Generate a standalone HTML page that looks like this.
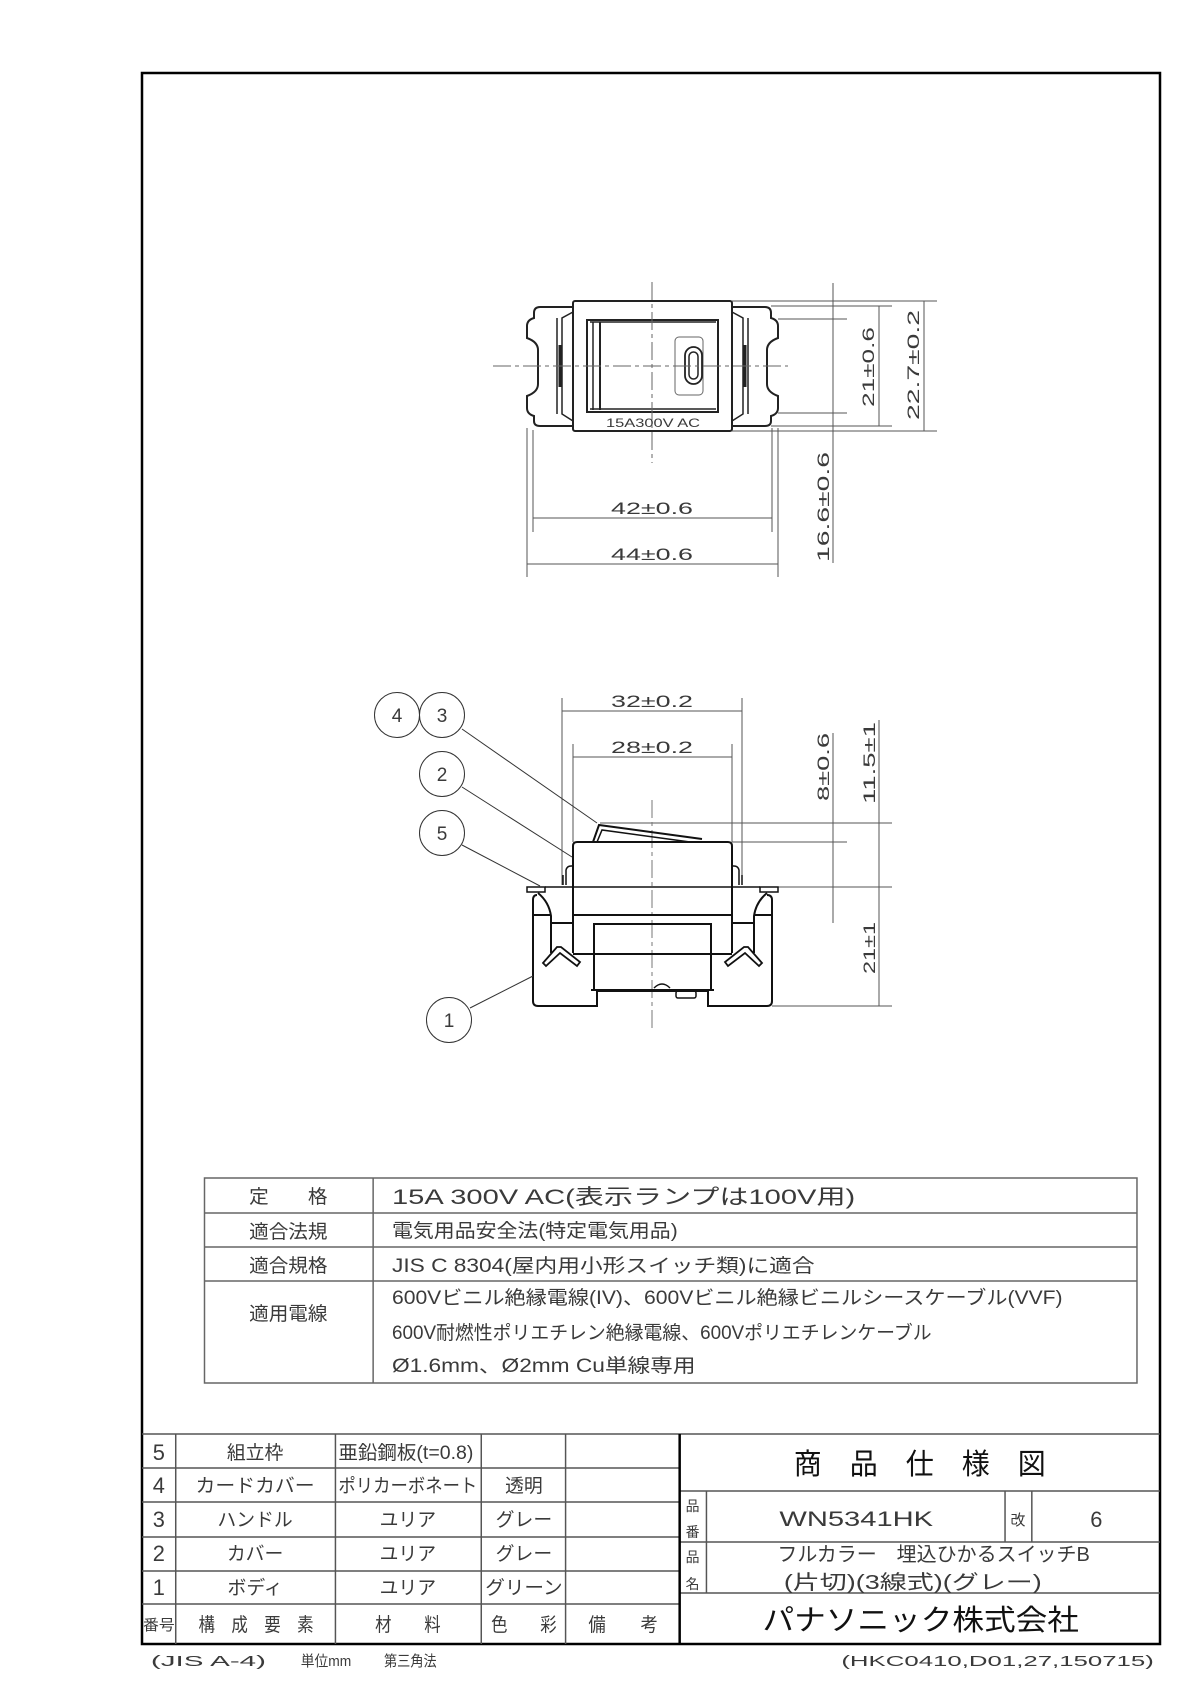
<!DOCTYPE html>
<html><head><meta charset="utf-8"><style>
html,body{margin:0;padding:0;background:#fff}
svg{display:block}
text{font-family:"Liberation Sans","Noto Sans CJK JP",sans-serif;fill:#3a3a3a}
</style></head><body>
<svg width="1190" height="1683" viewBox="0 0 1190 1683" xmlns="http://www.w3.org/2000/svg">
<!-- Frame -->
<rect x="142" y="73" width="1018" height="1571" fill="none" stroke="#000" stroke-width="2.5"/>

<!-- ===== TOP VIEW ===== -->
<g fill="none" stroke="#222" stroke-width="2">
  <path d="M573,307 L540,307 Q534,307 534,313 L534,318 Q527,320 527,326 L527,338 Q538,342 538,350 L538,384 Q538,392 527,396 L527,408 Q527,414 534,416 L534,421 Q534,426 540,426 L573,426"/>
  <path d="M732,307 L765,307 Q771,307 771,313 L771,318 Q778,320 778,326 L778,338 Q767,342 767,350 L767,384 Q767,392 778,396 L778,408 Q778,414 771,416 L771,421 Q771,426 765,426 L732,426"/>
  <path d="M573,312 L562,318 L562,414 L573,421 M557,318 L557,414" stroke-width="1.5"/>
  <path d="M732,312 L743,318 L743,414 L732,421 M748,318 L748,414" stroke-width="1.5"/>
  <line x1="560" y1="345" x2="560" y2="387" stroke-width="3"/>
  <line x1="745" y1="345" x2="745" y2="387" stroke-width="3"/>
  <rect x="573" y="301" width="159" height="130" rx="2"/>
  <rect x="587" y="320" width="131" height="92" stroke-width="2"/>
  <line x1="593" y1="322" x2="593" y2="410" stroke-width="1.5"/>
  <line x1="600" y1="322" x2="600" y2="410" stroke-width="2"/>
  <line x1="590" y1="322" x2="716" y2="322" stroke-width="1.5"/>
  <line x1="590" y1="409" x2="716" y2="409" stroke-width="1.5"/>
  <rect x="675" y="337" width="28" height="58" rx="4" stroke-width="1" stroke="#666"/>
  <rect x="685" y="347" width="17" height="37" rx="8.5" stroke-width="1.8"/>
  <rect x="689" y="352" width="9" height="27" rx="4.5" stroke-width="1.5"/>
</g>
<text x="653" y="427" font-size="12" text-anchor="middle" textLength="94" lengthAdjust="spacingAndGlyphs">15A300V AC</text>
<g stroke="#666" stroke-width="1" fill="none" stroke-dasharray="18,4,4,4">
  <line x1="652" y1="282" x2="652" y2="463"/>
  <line x1="493" y1="366" x2="788" y2="366"/>
</g>
<g stroke="#555" stroke-width="1" fill="none">
  <line x1="732" y1="301" x2="937" y2="301"/>
  <line x1="771" y1="306" x2="892" y2="306"/>
  <line x1="778" y1="319" x2="847" y2="319"/>
  <line x1="778" y1="413" x2="847" y2="413"/>
  <line x1="771" y1="426" x2="892" y2="426"/>
  <line x1="732" y1="431" x2="937" y2="431"/>
  <line x1="833" y1="283" x2="833" y2="563"/>
  <line x1="879" y1="306" x2="879" y2="426"/>
  <line x1="924" y1="301" x2="924" y2="431"/>
  <line x1="533" y1="430" x2="533" y2="532"/>
  <line x1="772" y1="428" x2="772" y2="532"/>
  <line x1="527" y1="428" x2="527" y2="577"/>
  <line x1="778" y1="428" x2="778" y2="577"/>
  <line x1="533" y1="518" x2="772" y2="518"/>
  <line x1="527" y1="564" x2="778" y2="564"/>
</g>
<g font-size="17">
  <text x="652" y="514" text-anchor="middle" textLength="82" lengthAdjust="spacingAndGlyphs">42±0.6</text>
  <text x="652" y="560" text-anchor="middle" textLength="82" lengthAdjust="spacingAndGlyphs">44±0.6</text>
  <text transform="translate(874,367) rotate(-90)" text-anchor="middle" textLength="80" lengthAdjust="spacingAndGlyphs">21±0.6</text>
  <text transform="translate(919,365) rotate(-90)" text-anchor="middle" textLength="110" lengthAdjust="spacingAndGlyphs">22.7±0.2</text>
  <text transform="translate(829,507) rotate(-90)" text-anchor="middle" textLength="110" lengthAdjust="spacingAndGlyphs">16.6±0.6</text>
</g>

<!-- ===== SIDE VIEW ===== -->
<g stroke="#555" stroke-width="1" fill="none">
  <line x1="562" y1="698" x2="562" y2="885"/>
  <line x1="742" y1="698" x2="742" y2="885"/>
  <line x1="562" y1="711" x2="742" y2="711"/>
  <line x1="573" y1="744" x2="573" y2="842"/>
  <line x1="732" y1="744" x2="732" y2="842"/>
  <line x1="573" y1="757" x2="732" y2="757"/>
  <line x1="600" y1="823" x2="892" y2="823"/>
  <line x1="732" y1="842" x2="847" y2="842"/>
  <line x1="778" y1="887" x2="892" y2="887"/>
  <line x1="772" y1="1006" x2="892" y2="1006"/>
  <line x1="833" y1="733" x2="833" y2="923"/>
  <line x1="879" y1="720" x2="879" y2="1006"/>
</g>
<g stroke="#777" stroke-width="1" fill="none" stroke-dasharray="18,4,4,4">
  <line x1="652" y1="800" x2="652" y2="1030"/>
</g>
<g font-size="17">
  <text x="652" y="707" text-anchor="middle" textLength="82" lengthAdjust="spacingAndGlyphs">32±0.2</text>
  <text x="652" y="753" text-anchor="middle" textLength="82" lengthAdjust="spacingAndGlyphs">28±0.2</text>
  <text transform="translate(829,767) rotate(-90)" text-anchor="middle" textLength="68" lengthAdjust="spacingAndGlyphs">8±0.6</text>
  <text transform="translate(875,763) rotate(-90)" text-anchor="middle" textLength="82" lengthAdjust="spacingAndGlyphs">11.5±1</text>
  <text transform="translate(875,948) rotate(-90)" text-anchor="middle" textLength="52" lengthAdjust="spacingAndGlyphs">21±1</text>
</g>
<g fill="none" stroke="#111" stroke-width="2">
  <path d="M593,842 L599,825 L702,839"/>
  <path d="M597,842 L602,830 L690,842" stroke-width="1.5"/>
  <path d="M573,953 L573,846 Q573,842 577,842 L728,842 Q732,842 732,846 L732,953"/>
  <line x1="573" y1="915" x2="732" y2="915"/>
  <line x1="573" y1="954" x2="732" y2="954"/>
  <path d="M594,990 L594,924 L711,924 L711,990"/>
  <line x1="591" y1="990" x2="714" y2="990"/>
  <rect x="676" y="991" width="20" height="7" rx="2" stroke-width="1.5"/>
  <path d="M654,988 Q662,980 670,988" stroke-width="1.5"/>
  <path d="M537,895 Q533,895 533,900 L533,1001 Q533,1006 538,1006 L597,1006 L597,991 L708,991 L708,1006 L767,1006 Q772,1006 772,1001 L772,900 Q772,895 767,895"/>
  <rect x="527" y="887" width="18" height="5" stroke-width="1.5"/>
  <rect x="760" y="887" width="18" height="5" stroke-width="1.5"/>
  <line x1="545" y1="887" x2="760" y2="887" stroke-width="1.5"/>
  <path d="M538,893 Q549,902 551,916 L551,953"/>
  <path d="M533,915 L551,915 M551,923 L573,923"/>
  <path d="M566,885 L566,870 Q567,866 571,866 L573,866" stroke-width="1.5"/>
  <path d="M563,885 L563,875" stroke-width="1.5"/>
  <path d="M543,963 L557,947 L561,947 L580,962 L577,966 L560,953 L546,966 Z" stroke-width="1.8"/>
  <path d="M767,893 Q756,902 754,916 L754,953"/>
  <path d="M772,915 L754,915 M754,923 L732,923"/>
  <path d="M739,885 L739,870 Q738,866 734,866 L732,866" stroke-width="1.5"/>
  <path d="M742,885 L742,875" stroke-width="1.5"/>
  <path d="M762,963 L748,947 L744,947 L725,962 L728,966 L745,953 L759,966 Z" stroke-width="1.8"/>
</g>
<g fill="none" stroke="#333" stroke-width="1">
  <circle cx="397" cy="715" r="22.5"/>
  <circle cx="442" cy="715" r="22.5"/>
  <circle cx="442" cy="774" r="22.5"/>
  <circle cx="442" cy="833" r="22.5"/>
  <circle cx="449" cy="1020" r="22.5"/>
  <line x1="462" y1="729" x2="597" y2="823"/>
  <line x1="462" y1="787" x2="572" y2="857"/>
  <line x1="462" y1="845" x2="540" y2="886"/>
  <line x1="470" y1="1008" x2="533" y2="976"/>
</g>
<g font-size="19" text-anchor="middle">
  <text x="397" y="722">4</text><text x="442" y="722">3</text>
  <text x="442" y="781">2</text><text x="442" y="840">5</text>
  <text x="449" y="1027">1</text>
</g>

<g transform="matrix(0.992,0,0,1,1.136,0)">
<!-- ===== SPEC TABLE ===== -->
<g stroke="#666" stroke-width="1.5" fill="none">
  <rect x="205" y="1178" width="940" height="205"/>
  <line x1="375" y1="1178" x2="375" y2="1383"/>
  <line x1="205" y1="1213" x2="1145" y2="1213"/>
  <line x1="205" y1="1247" x2="1145" y2="1247"/>
  <line x1="205" y1="1281" x2="1145" y2="1281"/>
</g>
<g font-size="19">
  <text x="250" y="1203" textLength="79" lengthAdjust="spacingAndGlyphs">定　　格</text>
  <text x="250" y="1238" textLength="79" lengthAdjust="spacingAndGlyphs">適合法規</text>
  <text x="250" y="1272" textLength="79" lengthAdjust="spacingAndGlyphs">適合規格</text>
  <text x="250" y="1320" textLength="79" lengthAdjust="spacingAndGlyphs">適用電線</text>
  <text x="394" y="1204" font-size="21" textLength="467" lengthAdjust="spacingAndGlyphs">15A 300V AC(表示ランプは100V用)</text>
  <text x="394" y="1237" textLength="288" lengthAdjust="spacingAndGlyphs">電気用品安全法(特定電気用品)</text>
  <text x="394" y="1272" textLength="426" lengthAdjust="spacingAndGlyphs">JIS C 8304(屋内用小形スイッチ類)に適合</text>
  <text x="394" y="1304" textLength="676" lengthAdjust="spacingAndGlyphs">600Vビニル絶縁電線(IV)、600Vビニル絶縁ビニルシースケーブル(VVF)</text>
  <text x="394" y="1339" textLength="544" lengthAdjust="spacingAndGlyphs">600V耐燃性ポリエチレン絶縁電線、600Vポリエチレンケーブル</text>
  <text x="394" y="1372" textLength="306" lengthAdjust="spacingAndGlyphs">Ø1.6mm、Ø2mm Cu単線専用</text>
</g>

<!-- ===== PARTS TABLE ===== -->
<g stroke="#555" stroke-width="1.5" fill="none">
  <line x1="142" y1="1434" x2="1168" y2="1434"/>
  <line x1="142" y1="1468" x2="684" y2="1468"/>
  <line x1="142" y1="1502" x2="684" y2="1502"/>
  <line x1="142" y1="1537" x2="684" y2="1537"/>
  <line x1="142" y1="1571" x2="684" y2="1571"/>
  <line x1="142" y1="1604" x2="684" y2="1604"/>
  <line x1="176" y1="1434" x2="176" y2="1644"/>
  <line x1="337" y1="1434" x2="337" y2="1644"/>
  <line x1="484" y1="1434" x2="484" y2="1644"/>
  <line x1="569" y1="1434" x2="569" y2="1644"/>
  <line x1="684" y1="1491" x2="1168" y2="1491"/>
  <line x1="684" y1="1542" x2="1168" y2="1542"/>
  <line x1="684" y1="1593" x2="1168" y2="1593"/>
  <line x1="711" y1="1491" x2="711" y2="1593"/>
  <line x1="1012" y1="1491" x2="1012" y2="1542"/>
  <line x1="1039" y1="1491" x2="1039" y2="1542"/>
</g>
<line x1="684" y1="1434" x2="684" y2="1644" stroke="#000" stroke-width="2.5"/>
<g font-size="19" text-anchor="middle">
  <text x="159" y="1460" font-size="22">5</text>
  <text x="159" y="1493" font-size="22">4</text>
  <text x="159" y="1527" font-size="22">3</text>
  <text x="159" y="1561" font-size="22">2</text>
  <text x="159" y="1595" font-size="22">1</text>
  <text x="256" y="1459">組立枠</text>
  <text x="256" y="1492" textLength="120" lengthAdjust="spacingAndGlyphs">カードカバー</text>
  <text x="256" y="1526">ハンドル</text>
  <text x="256" y="1560">カバー</text>
  <text x="256" y="1594">ボディ</text>
  <text x="408" y="1459" textLength="136" lengthAdjust="spacingAndGlyphs">亜鉛鋼板(t=0.8)</text>
  <text x="410" y="1492" textLength="140" lengthAdjust="spacingAndGlyphs">ポリカーボネート</text>
  <text x="410" y="1526">ユリア</text>
  <text x="410" y="1560">ユリア</text>
  <text x="410" y="1594">ユリア</text>
  <text x="527" y="1492">透明</text>
  <text x="527" y="1526">グレー</text>
  <text x="527" y="1560">グレー</text>
  <text x="527" y="1594" textLength="78" lengthAdjust="spacingAndGlyphs">グリーン</text>
  <text x="159" y="1630" font-size="15" textLength="32" lengthAdjust="spacingAndGlyphs">番号</text>
  <text x="257" y="1631" textLength="116" lengthAdjust="spacingAndGlyphs">構　成　要　素</text>
  <text x="410" y="1631" textLength="66" lengthAdjust="spacingAndGlyphs">材　　料</text>
  <text x="527" y="1631" textLength="66" lengthAdjust="spacingAndGlyphs">色　　彩</text>
  <text x="627" y="1631" textLength="70" lengthAdjust="spacingAndGlyphs">備　　考</text>
</g>
<g text-anchor="middle">
  <text x="926" y="1474" font-size="29" textLength="254" lengthAdjust="spacingAndGlyphs" style="fill:#111">商　品　仕　様　図</text>
  <text x="697" y="1511" font-size="14">品</text>
  <text x="697" y="1537" font-size="14">番</text>
  <text x="697" y="1562" font-size="14">品</text>
  <text x="697" y="1589" font-size="14">名</text>
  <text x="862" y="1526" font-size="21" textLength="155" lengthAdjust="spacingAndGlyphs">WN5341HK</text>
  <text x="1025" y="1525" font-size="15">改</text>
  <text x="1104" y="1527" font-size="22">6</text>
  <text x="940" y="1561" font-size="20" textLength="315" lengthAdjust="spacingAndGlyphs">フルカラー　埋込ひかるスイッチB</text>
  <text x="919" y="1589" font-size="20" textLength="260" lengthAdjust="spacingAndGlyphs">(片切)(3線式)(グレー)</text>
  <text x="927" y="1630" font-size="29" textLength="319" lengthAdjust="spacingAndGlyphs" style="fill:#111">パナソニック株式会社</text>
</g>
<g font-size="15">
  <text x="151" y="1666" textLength="116" lengthAdjust="spacingAndGlyphs">(JIS A-4)</text>
  <text x="302" y="1666" textLength="51" lengthAdjust="spacingAndGlyphs">単位mm</text>
  <text x="386" y="1666" textLength="53" lengthAdjust="spacingAndGlyphs">第三角法</text>
  <text x="847" y="1666" textLength="315" lengthAdjust="spacingAndGlyphs">(HKC0410,D01,27,150715)</text>
</g>
</g>
</svg>
</body></html>
